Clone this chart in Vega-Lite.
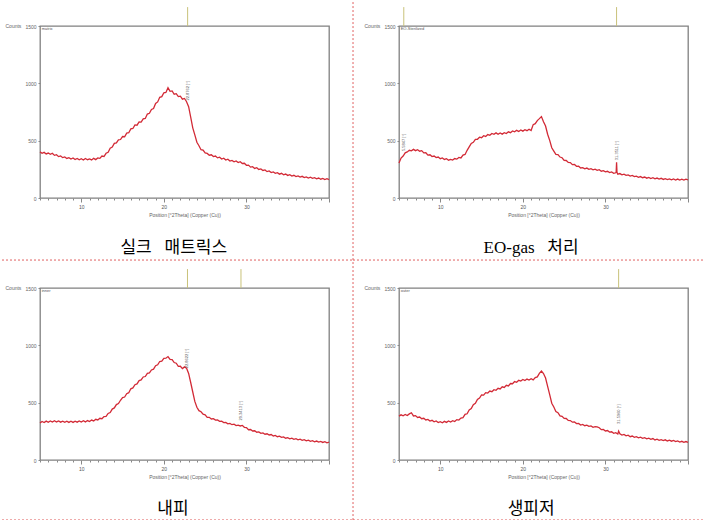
{
"$schema": "https://vega.github.io/schema/vega-lite/v6.json",
"padding": 0,
"background": "white",
"columns": 2,
"bounds": "flush",
"spacing": {"row": 90, "column": 70},
"config": {
 "view": {"stroke": "#808080", "strokeWidth": 1.3},
 "font": "Liberation Sans",
 "axisX": {"domain": false, "grid": false, "tickCount": 60, "format": "d", "tickSize": {"condition": {"test": "datum.value % 10 === 0", "value": 4}, "value": 2}, "labelFontSize": 5, "labelColor": "#555", "tickColor": "#888", "labelPadding": 2, "titleFontSize": 5, "titleFontWeight": "normal", "titleColor": "#666", "titlePadding": 3, "labelFlush": false, "labelOverlap": false},
 "axisY": {"domain": false, "grid": false, "tickSize": 2, "labelFontSize": 5, "labelColor": "#666", "tickColor": "#888", "labelPadding": 2, "titleFontSize": 5, "titleFontWeight": "normal", "titleColor": "#666", "labelFlush": false, "labelOverlap": false, "format": "d"}
},
"datasets": {
 "p1": [{"x":5,"y":402},{"x":5.25,"y":390},{"x":5.5,"y":398},{"x":5.75,"y":384},{"x":6,"y":392},{"x":6.25,"y":381},{"x":6.5,"y":390},{"x":6.75,"y":372},{"x":7,"y":378},{"x":7.25,"y":361},{"x":7.5,"y":367},{"x":7.75,"y":352},{"x":8,"y":358},{"x":8.25,"y":345},{"x":8.5,"y":352},{"x":8.75,"y":340},{"x":9,"y":349},{"x":9.25,"y":336},{"x":9.5,"y":345},{"x":9.75,"y":333},{"x":10,"y":342},{"x":10.25,"y":331},{"x":10.5,"y":344},{"x":10.75,"y":334},{"x":11,"y":341},{"x":11.25,"y":332},{"x":11.5,"y":346},{"x":11.75,"y":335},{"x":12,"y":349},{"x":12.25,"y":346},{"x":12.5,"y":366},{"x":12.75,"y":362},{"x":13,"y":390},{"x":13.25,"y":398},{"x":13.5,"y":434},{"x":13.75,"y":444},{"x":14,"y":476},{"x":14.25,"y":481},{"x":14.5,"y":507},{"x":14.75,"y":510},{"x":15,"y":536},{"x":15.25,"y":534},{"x":15.5,"y":566},{"x":15.75,"y":569},{"x":16,"y":603},{"x":16.25,"y":606},{"x":16.5,"y":638},{"x":16.75,"y":635},{"x":17,"y":664},{"x":17.25,"y":662},{"x":17.5,"y":690},{"x":17.75,"y":694},{"x":18,"y":732},{"x":18.25,"y":739},{"x":18.5,"y":772},{"x":18.75,"y":780},{"x":19,"y":824},{"x":19.25,"y":838},{"x":19.5,"y":878},{"x":19.75,"y":884},{"x":20,"y":918},{"x":20.25,"y":921},{"x":20.5,"y":962},{"x":20.75,"y":930},{"x":21,"y":934},{"x":21.25,"y":905},{"x":21.5,"y":910},{"x":21.75,"y":884},{"x":22,"y":888},{"x":22.25,"y":862},{"x":22.5,"y":868},{"x":22.75,"y":840},{"x":23,"y":796},{"x":23.25,"y":705},{"x":23.5,"y":612},{"x":23.75,"y":550},{"x":24,"y":486},{"x":24.25,"y":456},{"x":24.5,"y":421},{"x":24.75,"y":417},{"x":25,"y":393},{"x":25.25,"y":389},{"x":25.5,"y":373},{"x":25.75,"y":377},{"x":26,"y":361},{"x":26.25,"y":366},{"x":26.5,"y":350},{"x":26.75,"y":356},{"x":27,"y":340},{"x":27.25,"y":347},{"x":27.5,"y":331},{"x":27.75,"y":338},{"x":28,"y":322},{"x":28.25,"y":328},{"x":28.5,"y":316},{"x":28.75,"y":323},{"x":29,"y":309},{"x":29.25,"y":316},{"x":29.5,"y":301},{"x":29.75,"y":303},{"x":30,"y":285},{"x":30.25,"y":287},{"x":30.5,"y":269},{"x":30.75,"y":273},{"x":31,"y":258},{"x":31.25,"y":264},{"x":31.5,"y":249},{"x":31.75,"y":254},{"x":32,"y":240},{"x":32.25,"y":245},{"x":32.5,"y":230},{"x":32.75,"y":236},{"x":33,"y":222},{"x":33.25,"y":228},{"x":33.5,"y":215},{"x":33.75,"y":221},{"x":34,"y":208},{"x":34.25,"y":215},{"x":34.5,"y":202},{"x":34.75,"y":209},{"x":35,"y":197},{"x":35.25,"y":203},{"x":35.5,"y":191},{"x":35.75,"y":198},{"x":36,"y":187},{"x":36.25,"y":193},{"x":36.5,"y":182},{"x":36.75,"y":189},{"x":37,"y":178},{"x":37.25,"y":184},{"x":37.5,"y":174},{"x":37.75,"y":181},{"x":38,"y":171},{"x":38.25,"y":177},{"x":38.5,"y":167},{"x":38.75,"y":174},{"x":39,"y":164},{"x":39.25,"y":171},{"x":39.5,"y":161},{"x":39.75,"y":168},{"x":40,"y":160}],
 "p2": [{"x":5,"y":305},{"x":5.25,"y":348},{"x":5.5,"y":366},{"x":5.75,"y":394},{"x":6,"y":402},{"x":6.25,"y":416},{"x":6.5,"y":411},{"x":6.75,"y":424},{"x":7,"y":413},{"x":7.25,"y":421},{"x":7.5,"y":408},{"x":7.75,"y":413},{"x":8,"y":393},{"x":8.25,"y":395},{"x":8.5,"y":374},{"x":8.75,"y":377},{"x":9,"y":361},{"x":9.25,"y":366},{"x":9.5,"y":352},{"x":9.75,"y":357},{"x":10,"y":343},{"x":10.25,"y":349},{"x":10.5,"y":336},{"x":10.75,"y":343},{"x":11,"y":330},{"x":11.25,"y":337},{"x":11.5,"y":331},{"x":11.75,"y":344},{"x":12,"y":339},{"x":12.25,"y":354},{"x":12.5,"y":349},{"x":12.75,"y":374},{"x":13,"y":380},{"x":13.25,"y":416},{"x":13.5,"y":446},{"x":13.75,"y":476},{"x":14,"y":486},{"x":14.25,"y":511},{"x":14.5,"y":512},{"x":14.75,"y":530},{"x":15,"y":526},{"x":15.25,"y":543},{"x":15.5,"y":537},{"x":15.75,"y":553},{"x":16,"y":547},{"x":16.25,"y":563},{"x":16.5,"y":556},{"x":16.75,"y":568},{"x":17,"y":556},{"x":17.25,"y":567},{"x":17.5,"y":557},{"x":17.75,"y":569},{"x":18,"y":562},{"x":18.25,"y":577},{"x":18.5,"y":570},{"x":18.75,"y":585},{"x":19,"y":577},{"x":19.25,"y":590},{"x":19.5,"y":580},{"x":19.75,"y":593},{"x":20,"y":583},{"x":20.25,"y":596},{"x":20.5,"y":587},{"x":20.75,"y":600},{"x":21,"y":588},{"x":21.25,"y":640},{"x":21.5,"y":648},{"x":21.75,"y":675},{"x":22,"y":692},{"x":22.25,"y":710},{"x":22.5,"y":665},{"x":22.75,"y":628},{"x":23,"y":556},{"x":23.25,"y":503},{"x":23.5,"y":438},{"x":23.75,"y":409},{"x":24,"y":381},{"x":24.25,"y":378},{"x":24.5,"y":357},{"x":24.75,"y":351},{"x":25,"y":328},{"x":25.25,"y":327},{"x":25.5,"y":310},{"x":25.75,"y":309},{"x":26,"y":291},{"x":26.25,"y":292},{"x":26.5,"y":276},{"x":26.75,"y":277},{"x":27,"y":262},{"x":27.25,"y":265},{"x":27.5,"y":254},{"x":27.75,"y":261},{"x":28,"y":250},{"x":28.25,"y":256},{"x":28.5,"y":246},{"x":28.75,"y":252},{"x":29,"y":241},{"x":29.25,"y":247},{"x":29.5,"y":234},{"x":29.75,"y":239},{"x":30,"y":228},{"x":30.25,"y":233},{"x":30.5,"y":222},{"x":30.75,"y":227},{"x":31,"y":215},{"x":31.25,"y":220},{"x":31.3,"y":226},{"x":31.35,"y":312},{"x":31.4,"y":224},{"x":31.5,"y":208},{"x":31.75,"y":213},{"x":32,"y":202},{"x":32.25,"y":208},{"x":32.5,"y":197},{"x":32.75,"y":202},{"x":33,"y":191},{"x":33.25,"y":197},{"x":33.5,"y":186},{"x":33.75,"y":191},{"x":34,"y":181},{"x":34.25,"y":187},{"x":34.5,"y":177},{"x":34.75,"y":183},{"x":35,"y":173},{"x":35.25,"y":180},{"x":35.5,"y":170},{"x":35.75,"y":177},{"x":36,"y":167},{"x":36.25,"y":174},{"x":36.5,"y":165},{"x":36.75,"y":172},{"x":37,"y":162},{"x":37.25,"y":169},{"x":37.5,"y":160},{"x":37.75,"y":167},{"x":38,"y":158},{"x":38.25,"y":166},{"x":38.5,"y":157},{"x":38.75,"y":165},{"x":39,"y":157},{"x":39.25,"y":164},{"x":39.5,"y":156},{"x":39.75,"y":164},{"x":40,"y":158}],
 "p3": [{"x":5,"y":322},{"x":5.25,"y":336},{"x":5.5,"y":327},{"x":5.75,"y":339},{"x":6,"y":329},{"x":6.25,"y":341},{"x":6.5,"y":331},{"x":6.75,"y":343},{"x":7,"y":332},{"x":7.25,"y":341},{"x":7.5,"y":330},{"x":7.75,"y":339},{"x":8,"y":329},{"x":8.25,"y":339},{"x":8.5,"y":328},{"x":8.75,"y":338},{"x":9,"y":328},{"x":9.25,"y":339},{"x":9.5,"y":330},{"x":9.75,"y":341},{"x":10,"y":331},{"x":10.25,"y":342},{"x":10.5,"y":332},{"x":10.75,"y":344},{"x":11,"y":335},{"x":11.25,"y":348},{"x":11.5,"y":341},{"x":11.75,"y":355},{"x":12,"y":349},{"x":12.25,"y":364},{"x":12.5,"y":360},{"x":12.75,"y":378},{"x":13,"y":381},{"x":13.25,"y":406},{"x":13.5,"y":414},{"x":13.75,"y":444},{"x":14,"y":454},{"x":14.25,"y":483},{"x":14.5,"y":492},{"x":14.75,"y":521},{"x":15,"y":545},{"x":15.25,"y":549},{"x":15.5,"y":578},{"x":15.75,"y":587},{"x":16,"y":621},{"x":16.25,"y":629},{"x":16.5,"y":657},{"x":16.75,"y":664},{"x":17,"y":692},{"x":17.25,"y":698},{"x":17.5,"y":724},{"x":17.75,"y":728},{"x":18,"y":755},{"x":18.25,"y":759},{"x":18.5,"y":785},{"x":18.75,"y":792},{"x":19,"y":822},{"x":19.25,"y":830},{"x":19.5,"y":859},{"x":19.75,"y":862},{"x":20,"y":886},{"x":20.25,"y":888},{"x":20.5,"y":902},{"x":20.75,"y":877},{"x":21,"y":876},{"x":21.25,"y":850},{"x":21.5,"y":844},{"x":21.75,"y":817},{"x":22,"y":818},{"x":22.25,"y":797},{"x":22.5,"y":812},{"x":22.75,"y":800},{"x":23,"y":755},{"x":23.25,"y":676},{"x":23.5,"y":593},{"x":23.75,"y":511},{"x":24,"y":460},{"x":24.25,"y":430},{"x":24.5,"y":421},{"x":24.75,"y":399},{"x":25,"y":394},{"x":25.25,"y":372},{"x":25.5,"y":372},{"x":25.75,"y":358},{"x":26,"y":361},{"x":26.25,"y":348},{"x":26.5,"y":350},{"x":26.75,"y":337},{"x":27,"y":339},{"x":27.25,"y":326},{"x":27.5,"y":328},{"x":27.75,"y":315},{"x":28,"y":319},{"x":28.25,"y":308},{"x":28.5,"y":312},{"x":28.75,"y":300},{"x":29,"y":304},{"x":29.25,"y":297},{"x":29.5,"y":302},{"x":29.75,"y":285},{"x":30,"y":282},{"x":30.25,"y":264},{"x":30.5,"y":266},{"x":30.75,"y":253},{"x":31,"y":255},{"x":31.25,"y":242},{"x":31.5,"y":245},{"x":31.75,"y":232},{"x":32,"y":236},{"x":32.25,"y":225},{"x":32.5,"y":229},{"x":32.75,"y":218},{"x":33,"y":222},{"x":33.25,"y":210},{"x":33.5,"y":215},{"x":33.75,"y":203},{"x":34,"y":208},{"x":34.25,"y":197},{"x":34.5,"y":202},{"x":34.75,"y":190},{"x":35,"y":195},{"x":35.25,"y":185},{"x":35.5,"y":191},{"x":35.75,"y":180},{"x":36,"y":186},{"x":36.25,"y":176},{"x":36.5,"y":181},{"x":36.75,"y":171},{"x":37,"y":177},{"x":37.25,"y":167},{"x":37.5,"y":173},{"x":37.75,"y":163},{"x":38,"y":168},{"x":38.25,"y":158},{"x":38.5,"y":165},{"x":38.75,"y":156},{"x":39,"y":162},{"x":39.25,"y":153},{"x":39.5,"y":160},{"x":39.75,"y":150},{"x":40,"y":155}],
 "p4": [{"x":5,"y":383},{"x":5.25,"y":394},{"x":5.5,"y":386},{"x":5.75,"y":397},{"x":6,"y":388},{"x":6.25,"y":402},{"x":6.5,"y":412},{"x":6.75,"y":384},{"x":7,"y":387},{"x":7.25,"y":371},{"x":7.5,"y":375},{"x":7.75,"y":360},{"x":8,"y":364},{"x":8.25,"y":349},{"x":8.5,"y":354},{"x":8.75,"y":340},{"x":9,"y":346},{"x":9.25,"y":333},{"x":9.5,"y":340},{"x":9.75,"y":327},{"x":10,"y":334},{"x":10.25,"y":325},{"x":10.5,"y":337},{"x":10.75,"y":328},{"x":11,"y":340},{"x":11.25,"y":331},{"x":11.5,"y":343},{"x":11.75,"y":335},{"x":12,"y":352},{"x":12.25,"y":348},{"x":12.5,"y":365},{"x":12.75,"y":370},{"x":13,"y":398},{"x":13.25,"y":403},{"x":13.5,"y":436},{"x":13.75,"y":448},{"x":14,"y":482},{"x":14.25,"y":494},{"x":14.5,"y":528},{"x":14.75,"y":540},{"x":15,"y":568},{"x":15.25,"y":566},{"x":15.5,"y":587},{"x":15.75,"y":584},{"x":16,"y":601},{"x":16.25,"y":596},{"x":16.5,"y":613},{"x":16.75,"y":608},{"x":17,"y":625},{"x":17.25,"y":620},{"x":17.5,"y":638},{"x":17.75,"y":633},{"x":18,"y":651},{"x":18.25,"y":646},{"x":18.5,"y":667},{"x":18.75,"y":665},{"x":19,"y":684},{"x":19.25,"y":678},{"x":19.5,"y":695},{"x":19.75,"y":688},{"x":20,"y":702},{"x":20.25,"y":693},{"x":20.5,"y":706},{"x":20.75,"y":697},{"x":21,"y":709},{"x":21.25,"y":699},{"x":21.5,"y":718},{"x":21.75,"y":725},{"x":22,"y":756},{"x":22.25,"y":776},{"x":22.5,"y":754},{"x":22.75,"y":715},{"x":23,"y":642},{"x":23.25,"y":570},{"x":23.5,"y":495},{"x":23.75,"y":462},{"x":24,"y":422},{"x":24.25,"y":412},{"x":24.5,"y":385},{"x":24.75,"y":381},{"x":25,"y":363},{"x":25.25,"y":362},{"x":25.5,"y":345},{"x":25.75,"y":344},{"x":26,"y":330},{"x":26.25,"y":332},{"x":26.5,"y":318},{"x":26.75,"y":319},{"x":27,"y":305},{"x":27.25,"y":310},{"x":27.5,"y":299},{"x":27.75,"y":304},{"x":28,"y":293},{"x":28.25,"y":297},{"x":28.5,"y":285},{"x":28.75,"y":290},{"x":29,"y":289},{"x":29.25,"y":281},{"x":29.5,"y":265},{"x":29.75,"y":266},{"x":30,"y":253},{"x":30.25,"y":257},{"x":30.5,"y":243},{"x":30.75,"y":246},{"x":31,"y":233},{"x":31.25,"y":238},{"x":31.5,"y":227},{"x":31.6,"y":252},{"x":31.75,"y":229},{"x":32,"y":218},{"x":32.25,"y":223},{"x":32.5,"y":211},{"x":32.75,"y":216},{"x":33,"y":203},{"x":33.25,"y":209},{"x":33.5,"y":198},{"x":33.75,"y":203},{"x":34,"y":193},{"x":34.25,"y":199},{"x":34.5,"y":189},{"x":34.75,"y":195},{"x":35,"y":185},{"x":35.25,"y":191},{"x":35.5,"y":181},{"x":35.75,"y":187},{"x":36,"y":175},{"x":36.25,"y":181},{"x":36.5,"y":171},{"x":36.75,"y":178},{"x":37,"y":169},{"x":37.25,"y":176},{"x":37.5,"y":166},{"x":37.75,"y":173},{"x":38,"y":164},{"x":38.25,"y":170},{"x":38.5,"y":160},{"x":38.75,"y":166},{"x":39,"y":157},{"x":39.25,"y":163},{"x":39.5,"y":154},{"x":39.75,"y":161},{"x":40,"y":153}],
 "l1": [{"x":22.88,"y":850,"t":"22.8762 [°]"}],
 "l2": [{"x":5.58,"y":410,"t":"5.5847 [°]"},{"x":31.35,"y":330,"t":"31.3511 [°]"}],
 "l3": [{"x":22.86,"y":800,"t":"22.8622 [°]"},{"x":29.34,"y":345,"t":"29.3413 [°]"}],
 "l4": [{"x":31.6,"y":315,"t":"31.5960 [°]"}]
},
"concat": [
 {"width": 289, "height": 172,
  "layer": [
   {"data": {"name": "p1"}, "mark": {"type": "line", "color": "#d22a36", "strokeWidth": 1.3},
    "encoding": {
     "x": {"field": "x", "type": "quantitative", "scale": {"domain": [5, 40], "nice": false, "zero": false}, "axis": {"values": [5,6,7,8,9,10,11,12,13,14,15,16,17,18,19,20,21,22,23,24,25,26,27,28,29,30,31,32,33,34,35,36,37,38,39,40], "labelExpr": "datum.value == 10 || datum.value == 20 || datum.value == 30 ? datum.label : ''", "title": "Position [°2Theta] (Copper (Cu))"}},
     "y": {"field": "y", "type": "quantitative", "scale": {"domain": [0, 1500], "nice": false}, "axis": {"values": [0, 500, 1000, 1500], "title": "Counts", "titleAngle": 0, "titleX": -35, "titleY": -1, "titleAlign": "left", "titleBaseline": "middle"}}}},
   {"data": {"name": "l1"}, "mark": {"type": "text", "angle": 270, "align": "left", "baseline": "middle", "fontSize": 4, "color": "#555"},
    "encoding": {"x": {"field": "x", "type": "quantitative"}, "y": {"field": "y", "type": "quantitative"}, "text": {"field": "t"}}},
   {"data": {"name": "l1"}, "mark": {"type": "rule", "color": "#c9c27a", "strokeWidth": 1},
    "encoding": {"x": {"field": "x", "type": "quantitative"}, "y": {"datum": 1500}, "y2": {"datum": 1665}}},
   {"data": {"values": [{}]}, "mark": {"type": "text", "fontSize": 4, "align": "left", "baseline": "top", "color": "#555"},
    "encoding": {"x": {"datum": 5.2}, "y": {"datum": 1490}, "text": {"value": "matrix"}}},
   {"data": {"values": [{}]}, "mark": {"type": "text", "fontSize": 17, "align": "center", "baseline": "middle", "color": "#000", "font": "Liberation Serif, Noto Sans CJK KR"},
    "encoding": {"x": {"datum": 21.2}, "y": {"datum": -436}, "text": {"value": "실크\u00a0\u00a0\u00a0매트릭스"}}},
   {"data": {"values": [{}]}, "mark": {"type": "rule", "color": "#e06060", "strokeDash": [2, 2], "strokeWidth": 1},
    "encoding": {"x": {"datum": 0.398}, "x2": {"datum": 42.91}, "y": {"datum": -541}}},
   {"data": {"values": [{}]}, "mark": {"type": "rule", "color": "#e06060", "strokeDash": [2, 2], "strokeWidth": 1},
    "encoding": {"x": {"datum": 42.91}, "y": {"datum": 1709}, "y2": {"datum": -2826}}}
  ]},
 {"width": 289, "height": 172,
  "layer": [
   {"data": {"name": "p2"}, "mark": {"type": "line", "color": "#d22a36", "strokeWidth": 1.3},
    "encoding": {
     "x": {"field": "x", "type": "quantitative", "scale": {"domain": [5, 40], "nice": false, "zero": false}, "axis": {"values": [5,6,7,8,9,10,11,12,13,14,15,16,17,18,19,20,21,22,23,24,25,26,27,28,29,30,31,32,33,34,35,36,37,38,39,40], "labelExpr": "datum.value == 10 || datum.value == 20 || datum.value == 30 ? datum.label : ''", "title": "Position [°2Theta] (Copper (Cu))"}},
     "y": {"field": "y", "type": "quantitative", "scale": {"domain": [0, 1500], "nice": false}, "axis": {"values": [0, 500, 1000, 1500], "title": "Counts", "titleAngle": 0, "titleX": -35, "titleY": -1, "titleAlign": "left", "titleBaseline": "middle"}}}},
   {"data": {"name": "l2"}, "mark": {"type": "text", "angle": 270, "align": "left", "baseline": "middle", "fontSize": 4, "color": "#555"},
    "encoding": {"x": {"field": "x", "type": "quantitative"}, "y": {"field": "y", "type": "quantitative"}, "text": {"field": "t"}}},
   {"data": {"name": "l2"}, "mark": {"type": "rule", "color": "#c9c27a", "strokeWidth": 1},
    "encoding": {"x": {"field": "x", "type": "quantitative"}, "y": {"datum": 1500}, "y2": {"datum": 1665}}},
   {"data": {"values": [{}]}, "mark": {"type": "text", "fontSize": 4, "align": "left", "baseline": "top", "color": "#555"},
    "encoding": {"x": {"datum": 5.2}, "y": {"datum": 1490}, "text": {"value": "EO-Sterilized"}}},
   {"data": {"values": [{}]}, "mark": {"type": "text", "fontSize": 17, "align": "center", "baseline": "middle", "color": "#000", "font": "Liberation Serif, Noto Sans CJK KR"},
    "encoding": {"x": {"datum": 21.0}, "y": {"datum": -436}, "text": {"value": "EO-gas\u00a0\u00a0\u00a0처리"}}},
   {"data": {"values": [{}]}, "mark": {"type": "rule", "color": "#e06060", "strokeDash": [2, 2], "strokeWidth": 1},
    "encoding": {"x": {"datum": -0.571}, "x2": {"datum": 42.06}, "y": {"datum": -541}}}
  ]},
 {"width": 289, "height": 172,
  "layer": [
   {"data": {"name": "p3"}, "mark": {"type": "line", "color": "#d22a36", "strokeWidth": 1.3},
    "encoding": {
     "x": {"field": "x", "type": "quantitative", "scale": {"domain": [5, 40], "nice": false, "zero": false}, "axis": {"values": [5,6,7,8,9,10,11,12,13,14,15,16,17,18,19,20,21,22,23,24,25,26,27,28,29,30,31,32,33,34,35,36,37,38,39,40], "labelExpr": "datum.value == 10 || datum.value == 20 || datum.value == 30 ? datum.label : ''", "title": "Position [°2Theta] (Copper (Cu))"}},
     "y": {"field": "y", "type": "quantitative", "scale": {"domain": [0, 1500], "nice": false}, "axis": {"values": [0, 500, 1000, 1500], "title": "Counts", "titleAngle": 0, "titleX": -35, "titleY": -1, "titleAlign": "left", "titleBaseline": "middle"}}}},
   {"data": {"name": "l3"}, "mark": {"type": "text", "angle": 270, "align": "left", "baseline": "middle", "fontSize": 4, "color": "#555"},
    "encoding": {"x": {"field": "x", "type": "quantitative"}, "y": {"field": "y", "type": "quantitative"}, "text": {"field": "t"}}},
   {"data": {"name": "l3"}, "mark": {"type": "rule", "color": "#c9c27a", "strokeWidth": 1},
    "encoding": {"x": {"field": "x", "type": "quantitative"}, "y": {"datum": 1500}, "y2": {"datum": 1665}}},
   {"data": {"values": [{}]}, "mark": {"type": "text", "fontSize": 4, "align": "left", "baseline": "top", "color": "#555"},
    "encoding": {"x": {"datum": 5.2}, "y": {"datum": 1490}, "text": {"value": "inner"}}},
   {"data": {"values": [{}]}, "mark": {"type": "text", "fontSize": 17, "align": "center", "baseline": "middle", "color": "#000", "font": "Liberation Serif, Noto Sans CJK KR"},
    "encoding": {"x": {"datum": 21.1}, "y": {"datum": -427}, "text": {"value": "내피"}}},
   {"data": {"values": [{}]}, "mark": {"type": "rule", "color": "#e06060", "strokeDash": [2, 2], "strokeWidth": 1},
    "encoding": {"x": {"datum": 0.398}, "x2": {"datum": 42.91}, "y": {"datum": -523}}}
  ]},
 {"width": 289, "height": 172,
  "layer": [
   {"data": {"name": "p4"}, "mark": {"type": "line", "color": "#d22a36", "strokeWidth": 1.3},
    "encoding": {
     "x": {"field": "x", "type": "quantitative", "scale": {"domain": [5, 40], "nice": false, "zero": false}, "axis": {"values": [5,6,7,8,9,10,11,12,13,14,15,16,17,18,19,20,21,22,23,24,25,26,27,28,29,30,31,32,33,34,35,36,37,38,39,40], "labelExpr": "datum.value == 10 || datum.value == 20 || datum.value == 30 ? datum.label : ''", "title": "Position [°2Theta] (Copper (Cu))"}},
     "y": {"field": "y", "type": "quantitative", "scale": {"domain": [0, 1500], "nice": false}, "axis": {"values": [0, 500, 1000, 1500], "title": "Counts", "titleAngle": 0, "titleX": -35, "titleY": -1, "titleAlign": "left", "titleBaseline": "middle"}}}},
   {"data": {"name": "l4"}, "mark": {"type": "text", "angle": 270, "align": "left", "baseline": "middle", "fontSize": 4, "color": "#555"},
    "encoding": {"x": {"field": "x", "type": "quantitative"}, "y": {"field": "y", "type": "quantitative"}, "text": {"field": "t"}}},
   {"data": {"name": "l4"}, "mark": {"type": "rule", "color": "#c9c27a", "strokeWidth": 1},
    "encoding": {"x": {"field": "x", "type": "quantitative"}, "y": {"datum": 1500}, "y2": {"datum": 1665}}},
   {"data": {"values": [{}]}, "mark": {"type": "text", "fontSize": 4, "align": "left", "baseline": "top", "color": "#555"},
    "encoding": {"x": {"datum": 5.2}, "y": {"datum": 1490}, "text": {"value": "outer"}}},
   {"data": {"values": [{}]}, "mark": {"type": "text", "fontSize": 17, "align": "center", "baseline": "middle", "color": "#000", "font": "Liberation Serif, Noto Sans CJK KR"},
    "encoding": {"x": {"datum": 21.0}, "y": {"datum": -427}, "text": {"value": "생피저"}}},
   {"data": {"values": [{}]}, "mark": {"type": "rule", "color": "#e06060", "strokeDash": [2, 2], "strokeWidth": 1},
    "encoding": {"x": {"datum": -0.571}, "x2": {"datum": 42.06}, "y": {"datum": -523}}}
  ]}
]
}
